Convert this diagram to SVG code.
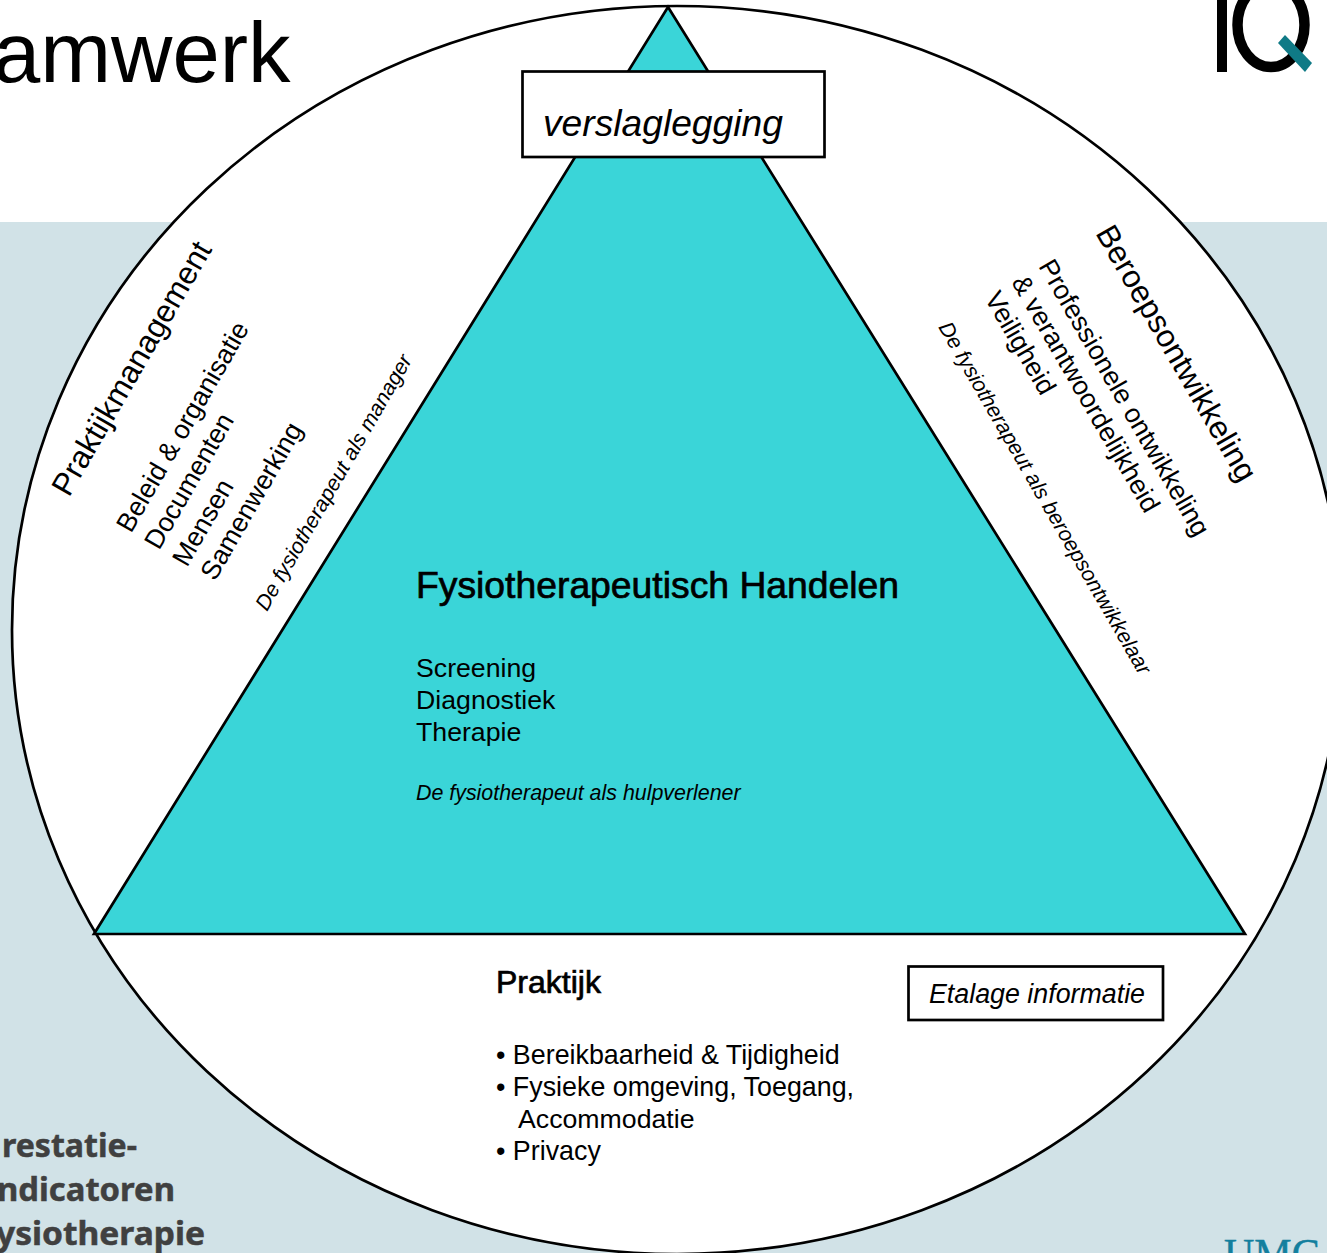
<svg xmlns="http://www.w3.org/2000/svg" width="1327" height="1253" viewBox="0 0 1327 1253">
<style>
text{font-family:"Liberation Sans",Arial,sans-serif;fill:#000}
.i{font-style:italic}
.s{stroke:#000;stroke-width:2.7}
.b{font-size:26.700px}
.l{font-size:26.850px}
.h{font-size:37.300px;stroke:#000;stroke-width:.7px}
.it{font-size:21.400px;font-style:italic}
.p{font-family:"Noto Sans","Liberation Sans",sans-serif;font-weight:700;font-size:33px;fill:#404040;stroke:#404040;stroke-width:.5px}
</style>
<rect width="1327" height="1253" fill="#fff"/>
<rect y="222" width="1327" height="1031" fill="#d1e2e7"/>
<text id="title" x="-7" y="82" font-size="85px">amwerk</text>
<g id="logo"><rect x="1217" y="0" width="10" height="72"/><ellipse cx="1271" cy="25" rx="33.500" ry="42" fill="none" stroke="#000" stroke-width="10.500"/><path d="M1285 35L1312 63L1305 72L1278 43Z" fill="#0f7a86"/></g>
<g id="circle"><ellipse cx="677" cy="630" rx="665" ry="624" fill="#fff" stroke="#000" stroke-width="2.700"/></g>
<g id="triangle"><path d="M668 7L1245 934H94Z" fill="#3ad5d8" class="s"/></g>
<g id="verslaglegging"><rect x="522.500" y="71.500" width="302" height="85.500" fill="#fff" class="s"/><text x="543" y="135.500" class="i" font-size="37.200px">verslaglegging</text></g>
<g id="handelen"><text x="416" y="598" class="h">Fysiotherapeutisch Handelen</text><text x="416" y="677" class="b">Screening</text><text x="416" y="709" class="b">Diagnostiek</text><text x="416" y="741" class="b">Therapie</text><text x="416" y="800" class="it">De fysiotherapeut als hulpverlener</text></g>
<g id="praktijk"><text x="496" y="993" font-size="32px" stroke="#000" stroke-width=".7">Praktijk</text><text x="496" y="1064" class="l">• Bereikbaarheid &amp; Tijdigheid</text><text x="496" y="1096" class="l">• Fysieke omgeving, Toegang,</text><text x="518" y="1128" class="b">Accommodatie</text><text x="496" y="1160" class="l">• Privacy</text></g>
<g id="etalage"><rect x="908.500" y="966.500" width="254.500" height="53.500" fill="#fff" class="s"/><text x="929" y="1003" class="i" font-size="26.800px">Etalage informatie</text></g>
<g id="praktijkmanagement"><text transform="translate(69 498) rotate(-60)" font-size="31.500px">Praktijkmanagement</text>
<text transform="translate(131 534) rotate(-60)" class="b">Beleid &amp; organisatie</text><text transform="translate(159 551) rotate(-60)" class="b">Documenten</text><text transform="translate(187 568) rotate(-60)" class="b">Mensen</text><text transform="translate(215 582) rotate(-60)" class="b">Samenwerking</text><text transform="translate(267 612) rotate(-60)" class="it">De fysiotherapeut als manager</text></g>
<g id="beroepsontwikkeling"><text transform="translate(1095 233) rotate(60)" font-size="31.600px">Beroepsontwikkeling</text><text transform="translate(1038 266) rotate(60)" class="b">Professionele ontwikkeling</text><text transform="translate(1011 282) rotate(60)" class="b">&amp; verantwoordelijkheid</text><text transform="translate(984 298) rotate(60)" class="b">Veiligheid</text><text transform="translate(938 327) rotate(60)" class="it">De fysiotherapeut als beroepsontwikkelaar</text></g>
<g id="prestatie"><text x="2" y="1157" class="p" textLength="135" lengthAdjust="spacingAndGlyphs">restatie-</text><text x="-3" y="1201" class="p" textLength="178" lengthAdjust="spacingAndGlyphs">ndicatoren</text><text x="-4" y="1245" class="p" textLength="209" lengthAdjust="spacingAndGlyphs">ysiotherapie</text></g>
<text id="umc" x="1224" y="1268" font-size="42px" stroke="#137f9e" stroke-width=".5" style="font-family:'Liberation Serif',serif;fill:#137f9e">UMC</text>
</svg>
